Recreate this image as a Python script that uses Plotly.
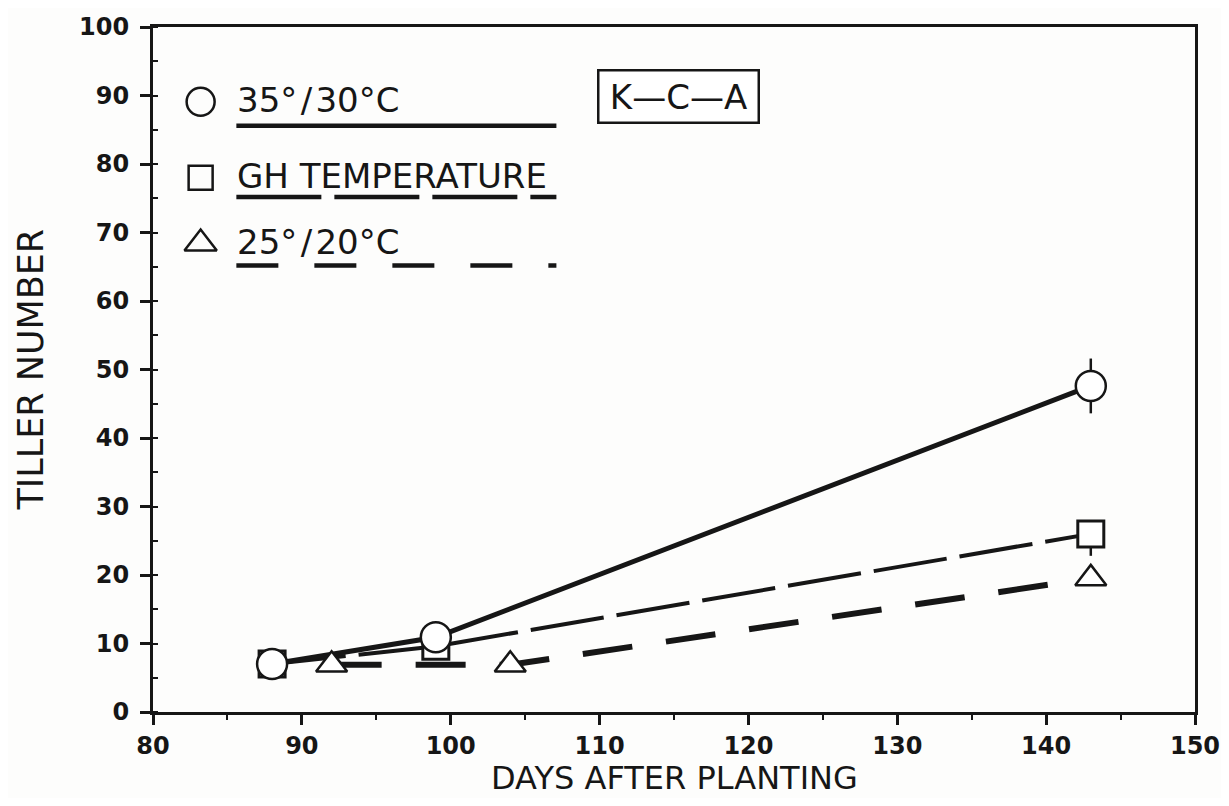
import plotly.graph_objects as go

# ---- data ----
days_hot = [88, 99, 143]
tillers_hot = [7.0, 10.9, 47.6]
err_hot = [0, 0, 4.0]

days_gh = [88, 99, 143]
tillers_gh = [7.0, 9.6, 26.0]
err_gh_minus = [0, 0, 3.2]

days_cool = [92, 104, 143]
tillers_cool = [6.9, 6.9, 19.5]

series_names = ["35°/30°C", "GH TEMPERATURE", "25°/20°C"]
panel_label = "K\u2014C\u2014A"
x_title = "DAYS AFTER PLANTING"
y_title = "TILLER NUMBER"
x_ticks = [80, 90, 100, 110, 120, 130, 140, 150]
y_ticks = [0, 10, 20, 30, 40, 50, 60, 70, 80, 90, 100]

INK = "#161616"
FONT = "DejaVu Sans"
fig = go.Figure()

# lines
fig.add_trace(go.Scatter(x=days_gh, y=tillers_gh, mode="lines",
                         line=dict(color=INK, width=4, dash="74px,13px"),
                         showlegend=False, hoverinfo="skip"))
fig.add_trace(go.Scatter(x=days_cool, y=tillers_cool, mode="lines",
                         line=dict(color=INK, width=6, dash="50px,34px"),
                         showlegend=False, hoverinfo="skip"))
fig.add_trace(go.Scatter(x=days_hot, y=tillers_hot, mode="lines",
                         line=dict(color=INK, width=5),
                         showlegend=False, hoverinfo="skip"))

# markers
fig.add_trace(go.Scatter(x=days_cool, y=tillers_cool, mode="markers",
                         marker=dict(symbol="triangle-up", size=27, color="white",
                                     line=dict(color=INK, width=2.5)),
                         showlegend=False))
fig.add_trace(go.Scatter(x=days_gh, y=tillers_gh, mode="markers",
                         error_y=dict(type="data", symmetric=False, array=[0, 0, 0],
                                      arrayminus=err_gh_minus, color=INK, thickness=2.5, width=0),
                         marker=dict(symbol="square", size=26, color="white",
                                     line=dict(color=INK, width=3)),
                         showlegend=False))
fig.add_trace(go.Scatter(x=days_hot, y=tillers_hot, mode="markers",
                         error_y=dict(type="data", array=err_hot, color=INK, thickness=2.5, width=0),
                         marker=dict(symbol="circle", size=30, color="white",
                                     line=dict(color=INK, width=2.5)),
                         showlegend=False))

# hand-drawn style legend
leg_sym = ["circle-open", "square-open", "triangle-up-open"]
leg_size = [28, 24, 28]
leg_y = [89.1, 78.0, 68.4]
leg_line_y = [85.6, 75.2, 65.2]
leg_dash = ["solid", "85px,13px", "42px,36px"]
for sym, sz, yy, ly, dsh, name in zip(leg_sym, leg_size, leg_y, leg_line_y, leg_dash, series_names):
    fig.add_trace(go.Scatter(x=[83.2], y=[yy], mode="markers",
                             marker=dict(symbol=sym, size=sz, color=INK,
                                         line=dict(color=INK, width=2.5)),
                             showlegend=False, hoverinfo="skip"))
    fig.add_shape(type="line", xref="x", yref="y", x0=85.6, x1=107.1, y0=ly, y1=ly,
                  line=dict(color=INK, width=4.5, dash=dsh))
    fig.add_annotation(x=85.5, y=yy + 0.2, xref="x", yref="y",
                       text=name.replace("/", "\u200a/\u200a"), showarrow=False,
                       xanchor="left", yanchor="middle",
                       font=dict(family=FONT, size=34, color=INK))

fig.add_annotation(x=115.3, y=89.9, xref="x", yref="y", text=panel_label, showarrow=False,
                   xanchor="center", yanchor="middle", width=150, height=42,
                   font=dict(family=FONT, size=34, color=INK),
                   bordercolor=INK, borderwidth=2.5, borderpad=4, bgcolor="white")

# axis titles
fig.add_annotation(x=0.5, y=-0.097, xref="paper", yref="paper", text=x_title,
                   showarrow=False, xanchor="center", yanchor="middle", height=34,
                   font=dict(family=FONT, size=32, color=INK))
fig.add_annotation(x=-0.118, y=0.5, xref="paper", yref="paper", text=y_title,
                   showarrow=False, xanchor="center", yanchor="middle", textangle=-90,
                   font=dict(family=FONT, size=35, color=INK))

axis_common = dict(showline=True, linecolor=INK, linewidth=3, mirror=True,
                   showgrid=False, zeroline=False, ticks="outside", ticklen=10,
                   tickwidth=2.5, tickcolor=INK, ticklabeloverflow="allow",
                   tickfont=dict(family=FONT, size=24, color=INK, weight="bold"))

fig.update_xaxes(range=[80, 150], tickvals=x_ticks, **axis_common,
                 minor=dict(dtick=5, ticks="outside", ticklen=5, tickwidth=2, tickcolor=INK))
fig.update_yaxes(range=[0, 100], tickvals=y_ticks, **axis_common, ticklabelstandoff=6,
                 minor=dict(dtick=5, ticks="inside", ticklen=5, tickwidth=2, tickcolor=INK))

# page has an 8px body margin; size the figure to fit inside the window
fig.update_layout(width=1213, height=790, paper_bgcolor="#fdfdfc", plot_bgcolor="#fdfdfc",
                  margin=dict(l=145, r=26, t=19, b=86, autoexpand=False), showlegend=False)

fig.write_html("out.html")
